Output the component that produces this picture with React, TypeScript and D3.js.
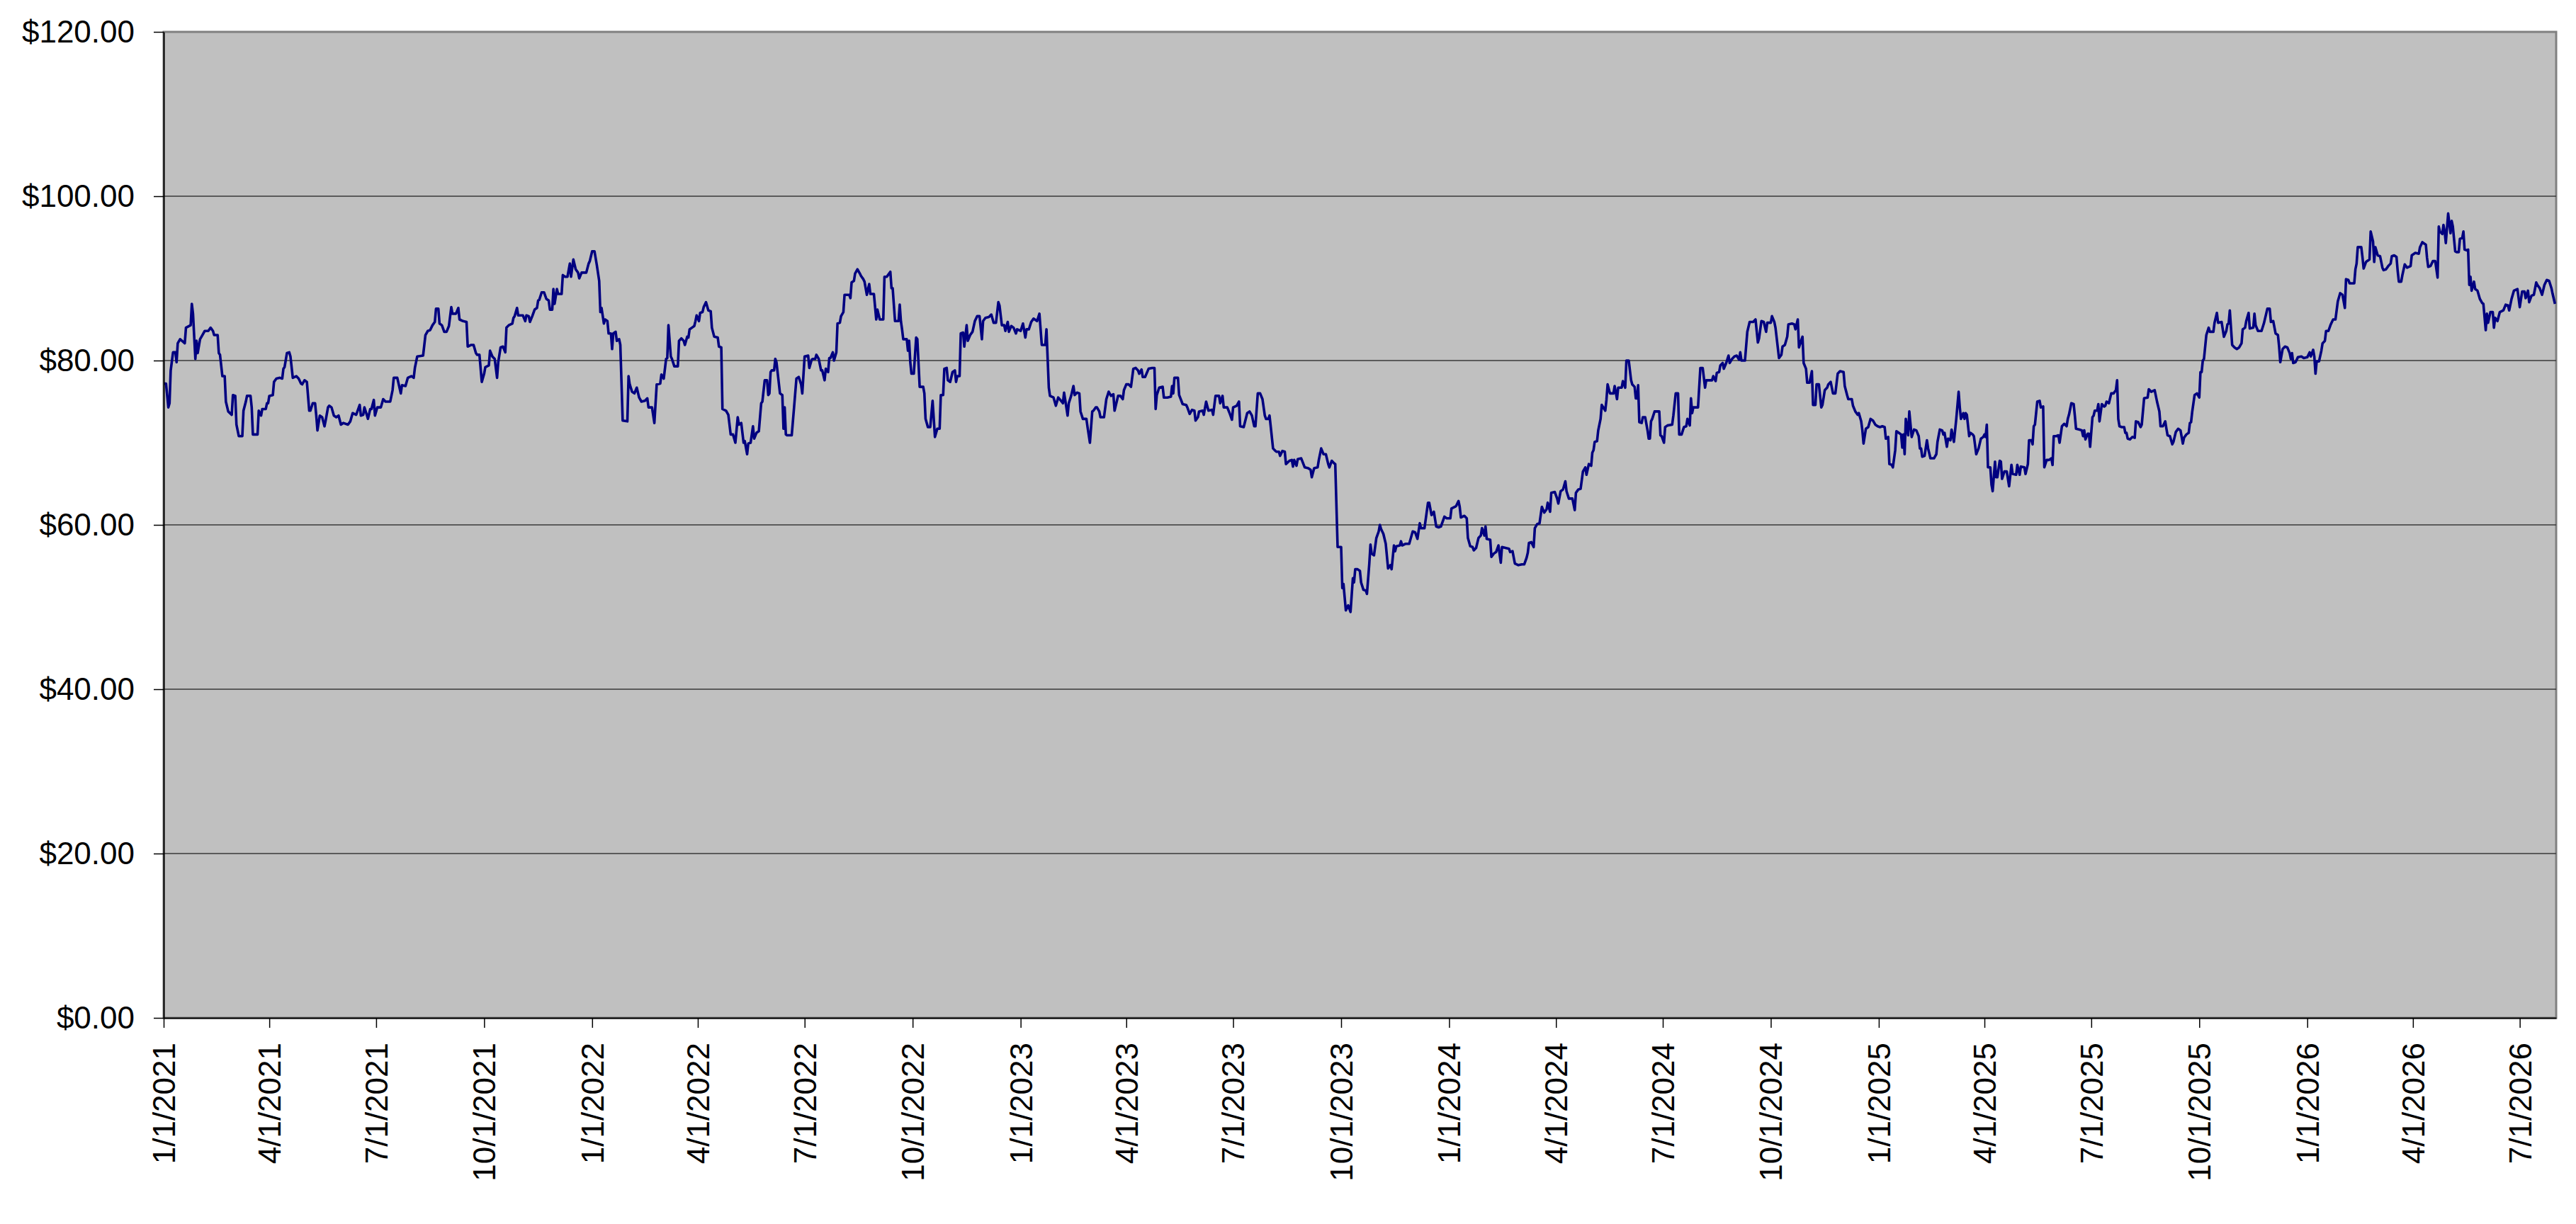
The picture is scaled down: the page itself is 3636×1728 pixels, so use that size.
import React, { useEffect, useRef } from "react";
import * as d3 from "d3";

// [days since 1/1/2021, price]
type Pt = [number, number];

const startDate = "1/1/2021";

const segJan2021: Pt[] = [
  [0, 77.2], [2, 77.2], [4, 74.3], [5, 74.8], [6, 78.8], [8, 81.0], [10, 81.0], [11, 79.8], [12, 82.1], [14, 82.6],
  [18, 82.1], [19, 84.0], [23, 84.3], [24, 86.9], [25, 85.7], [27, 80.2], [28, 82.4], [29, 80.9], [31, 82.6], [33, 83.1],
  [35, 83.6], [38, 83.6], [40, 84.0], [42, 83.6], [43, 83.1], [46, 83.1], [47, 80.9], [48, 80.7], [50, 78.1], [52, 78.1],
  [53, 75.0], [55, 73.8], [58, 73.4], [59, 75.8], [61, 75.7], [62, 72.2], [64, 70.8], [67, 70.8], [68, 73.9], [70, 75.0],
  [71, 75.7], [74, 75.7], [75, 74.3], [76, 71.0], [80, 71.0], [81, 73.9], [83, 73.3], [84, 74.1], [87, 74.1], [88, 74.8],
  [89, 74.8], [90, 75.7], [93, 75.8], [94, 77.4], [96, 77.8], [99, 77.9], [101, 77.8], [102, 79.0], [103, 79.2], [105, 80.9],
  [107, 81.0], [108, 80.5], [110, 77.9], [113, 78.1], [115, 77.8], [117, 77.2], [118, 77.1], [120, 77.6], [122, 77.4], [124, 73.9],
  [125, 73.9], [127, 74.8], [129, 74.8], [130, 73.3], [131, 71.5], [133, 73.3], [135, 73.1], [137, 72.0], [138, 72.7], [140, 74.3],
  [141, 74.5], [143, 74.3], [145, 73.3], [147, 73.1], [149, 73.3], [151, 72.2], [153, 72.4], [157, 72.2], [159, 72.6], [161, 73.6],
  [164, 73.4], [167, 74.6], [168, 73.3], [170, 73.4], [171, 74.3], [173, 73.4], [174, 72.9], [176, 74.1], [177, 74.1], [179, 75.2],
  [180, 73.3], [182, 74.3], [185, 74.3], [187, 75.3], [189, 75.0], [193, 75.0], [195, 76.4], [196, 77.9], [199, 77.9], [202, 76.0],
  [203, 77.0], [206, 76.9], [208, 77.9], [211, 78.1], [213, 77.9], [214, 79.1], [216, 80.5], [221, 80.6], [223, 83.1], [225, 83.6],
  [227, 83.7], [229, 84.3], [231, 84.7], [232, 86.3], [234, 86.3], [235, 84.5], [237, 84.3], [239, 83.5], [241, 83.5], [243, 84.2],
  [245, 86.5], [246, 85.7], [249, 85.7], [251, 86.4], [252, 85.0],
];

const segSep2021: Pt[] = [
  [255, 84.8], [258, 84.7], [259, 81.7], [262, 81.9], [264, 81.9], [266, 80.9], [267, 80.7], [269, 80.7], [271, 77.4], [273, 78.4],
  [274, 79.2], [277, 79.4], [278, 81.2], [280, 80.5], [282, 80.2], [284, 77.9], [285, 79.8], [287, 81.6], [289, 81.7], [291, 81.0],
  [292, 84.0], [294, 84.3], [297, 84.5], [298, 85.2], [299, 85.4], [301, 86.4], [302, 85.5], [304, 85.5], [306, 85.5], [308, 84.8],
  [309, 85.5], [311, 85.4], [312, 84.7], [314, 85.4], [316, 86.2], [318, 86.4], [319, 87.3], [320, 87.4], [322, 88.3], [324, 88.3],
  [326, 87.5], [328, 87.3], [329, 86.2], [331, 86.2], [332, 88.7], [333, 86.9], [335, 88.7], [336, 88.1], [339, 88.1], [340, 90.4],
  [342, 90.2], [344, 90.2], [346, 91.8], [347, 90.2], [349, 92.3], [351, 91.1], [353, 90.7], [354, 90.0], [356, 90.7], [360, 90.7],
  [362, 91.8], [363, 92.1], [365, 93.3], [367, 93.3], [369, 91.6], [371, 89.7], [372, 85.9], [373, 86.4], [375, 84.5], [376, 85.0],
  [378, 84.8], [379, 83.3], [381, 83.3], [382, 81.4], [383, 83.3], [385, 83.5], [386, 82.4], [388, 82.6], [389, 81.9], [391, 72.7],
  [395, 72.6], [396, 78.1], [397, 77.1], [399, 76.2], [401, 76.0], [403, 76.7], [405, 75.5], [407, 75.0], [410, 75.1], [412, 75.4],
  [413, 74.3], [416, 74.3], [418, 72.4], [420, 77.1], [423, 77.2], [424, 78.3], [426, 77.8], [428, 80.2], [429, 80.3], [430, 84.3],
  [432, 80.5], [433, 80.2], [435, 79.3], [438, 79.3], [439, 82.4], [441, 82.7], [443, 82.4], [444, 81.9], [446, 82.9], [447, 82.8],
  [448, 83.8], [450, 84.0], [452, 84.2], [453, 84.8], [454, 85.5], [456, 84.8], [457, 85.8], [459, 85.9], [460, 86.5], [462, 87.1],
  [464, 86.1], [466, 86.0], [467, 84.0], [469, 82.9], [472, 82.8], [473, 81.7], [475, 81.6], [476, 74.1], [479, 73.9], [481, 73.4],
  [483, 71.0], [485, 71.0], [487, 70.0], [489, 73.1], [490, 72.2], [492, 72.4], [494, 70.0], [495, 70.2], [497, 68.6], [498, 69.9],
  [500, 70.0], [502, 72.0], [503, 70.5], [505, 71.2], [507, 71.4], [509, 74.8],
];

const segMay2022: Pt[] = [
  [510, 75.0], [512, 77.6], [514, 77.6], [515, 75.8], [516, 76.0], [517, 78.6], [518, 78.8], [520, 78.8], [521, 80.2], [522, 79.8],
  [525, 76.0], [527, 75.8], [528, 71.7], [529, 74.3], [530, 71.0], [531, 70.9], [535, 70.9], [537, 74.3], [539, 77.8], [541, 78.0],
  [543, 77.1], [544, 76.0], [546, 80.5], [549, 80.6], [550, 79.1], [552, 80.1], [553, 80.2], [555, 80.2], [556, 80.7], [558, 80.2],
  [560, 78.8], [561, 78.8], [563, 77.6], [564, 79.0], [566, 78.6], [567, 80.3], [568, 80.3], [570, 81.0], [571, 80.0], [573, 81.0],
  [574, 84.5], [576, 84.6], [577, 85.4], [579, 85.9], [580, 88.0], [584, 88.0], [585, 87.6], [586, 89.5], [588, 89.7], [589, 90.6],
  [591, 91.1], [593, 90.6], [594, 90.3], [596, 89.9], [597, 89.6], [599, 88.0], [600, 88.7], [601, 89.3], [602, 88.1], [605, 88.1],
  [607, 85.0], [608, 86.2], [610, 85.0], [613, 85.0], [614, 90.2], [616, 90.2], [617, 90.4], [619, 90.8], [620, 88.8], [621, 88.8],
  [623, 84.8], [626, 84.8], [627, 86.8], [628, 84.8], [629, 83.8], [630, 82.6], [633, 82.6], [634, 81.2], [635, 82.4], [636, 79.8],
  [637, 78.4], [639, 78.4], [641, 82.8], [642, 82.6], [644, 76.8], [647, 76.8], [648, 76.0], [649, 72.9], [651, 71.9], [653, 71.9],
  [655, 75.1], [657, 70.7], [659, 71.7], [661, 71.7], [662, 75.8], [664, 75.8], [665, 79.0], [667, 79.1], [668, 77.6], [670, 77.4],
  [672, 78.6], [674, 78.8], [675, 77.4], [676, 78.1], [678, 78.1], [679, 83.3], [681, 83.4], [682, 81.7], [684, 84.3], [685, 82.4],
  [687, 83.1], [689, 83.5], [691, 84.8], [693, 85.4], [695, 85.4], [697, 82.6], [698, 84.8], [700, 85.2], [703, 85.3], [705, 85.6],
  [707, 84.6], [709, 84.6], [711, 87.1], [712, 86.7], [714, 84.3], [716, 84.3], [717, 83.6], [719, 84.7], [720, 83.5], [722, 84.2],
  [724, 84.0], [726, 83.3], [727, 83.8], [730, 83.6], [732, 84.5], [734, 82.8], [735, 83.8], [737, 83.8], [739, 84.7], [741, 85.1],
  [744, 84.8], [746, 85.7], [748, 81.9], [751, 81.9], [752, 83.8], [754, 76.7], [755, 75.7], [758, 75.5], [760, 74.5], [762, 75.5],
];

const segFeb2023: Pt[] = [
  [765, 75.0], [766, 74.8], [767, 76.1], [768, 75.2], [770, 73.3], [771, 74.8], [773, 75.7], [775, 76.9], [776, 75.8], [778, 76.1],
  [780, 76.0], [781, 73.8], [783, 72.9], [786, 72.9], [787, 71.9], [789, 70.0], [791, 73.8], [792, 73.9], [794, 74.3], [795, 74.3],
  [797, 73.8], [798, 73.1], [801, 73.1], [803, 75.3], [805, 76.2], [807, 75.7], [809, 75.9], [810, 73.9], [813, 75.7], [815, 75.7],
  [817, 75.3], [818, 76.4], [820, 77.1], [822, 77.1], [824, 76.8], [826, 79.0], [828, 79.1], [830, 78.8], [831, 78.4], [833, 78.9],
  [834, 78.0], [836, 78.0], [839, 79.0], [842, 79.1], [844, 79.1], [845, 74.1], [846, 75.8], [848, 76.7], [851, 76.8], [852, 75.5],
  [855, 75.5], [858, 75.6], [859, 76.9], [860, 76.0], [861, 77.9], [864, 77.9], [865, 75.8], [868, 74.7], [871, 74.6], [872, 74.3],
  [874, 73.5], [876, 74.0], [878, 73.9], [879, 72.7], [881, 73.1], [882, 73.8], [885, 73.9], [886, 73.4], [888, 75.0], [890, 73.9],
  [893, 74.0], [894, 73.4], [896, 75.7], [899, 75.7], [900, 74.8], [902, 75.7], [903, 74.3], [906, 74.3], [908, 73.6], [910, 72.8],
  [911, 74.3], [914, 74.5], [916, 75.0], [917, 72.0], [920, 71.9], [923, 73.6], [925, 73.8], [927, 73.3], [929, 72.0], [930, 72.0],
  [932, 76.0], [934, 76.0], [936, 75.3], [938, 73.3], [939, 72.9], [941, 72.9], [942, 73.3], [943, 72.0], [945, 69.3], [947, 69.0],
  [948, 68.9], [950, 68.9], [951, 68.4], [953, 69.0], [955, 68.9], [956, 67.4], [959, 67.8], [961, 67.9], [962, 67.1], [963, 67.9],
  [965, 67.2], [966, 68.0], [969, 68.1], [972, 67.0], [975, 66.9], [977, 66.7], [978, 65.8], [980, 66.9], [983, 67.0], [984, 67.9],
  [986, 69.3], [988, 68.6], [990, 68.6], [992, 67.4], [993, 67.0], [995, 67.8], [997, 67.5], [998, 67.4], [1000, 57.3], [1002, 57.3],
  [1003, 57.3], [1004, 52.3], [1005, 52.8], [1007, 49.6], [1009, 50.2], [1011, 49.4], [1013, 53.5], [1014, 53.0], [1015, 54.6],
];

const segOct2023: Pt[] = [
  [1017, 54.6], [1019, 54.4], [1020, 53.0], [1022, 52.1], [1024, 52.0], [1025, 51.6], [1027, 55.3], [1028, 57.6], [1029, 56.5], [1031, 56.3],
  [1033, 58.4], [1035, 59.2], [1036, 60.0], [1037, 59.5], [1039, 58.9], [1041, 57.7], [1043, 54.7], [1045, 55.1], [1046, 54.6], [1048, 57.5],
  [1049, 56.8], [1050, 57.4], [1053, 57.5], [1054, 58.0], [1055, 57.5], [1058, 57.7], [1061, 57.7], [1062, 58.2], [1064, 59.2], [1066, 59.1],
  [1068, 58.3], [1070, 60.2], [1071, 59.6], [1074, 59.6], [1077, 62.7], [1078, 62.7], [1080, 61.2], [1082, 61.6], [1084, 59.8], [1086, 59.7],
  [1088, 59.8], [1091, 61.0], [1093, 60.8], [1096, 60.8], [1097, 62.0], [1100, 62.2], [1101, 62.3], [1103, 62.9], [1104, 62.2], [1105, 60.9],
  [1108, 61.1], [1110, 60.8], [1111, 58.4], [1113, 57.4], [1115, 57.3], [1116, 56.9], [1118, 57.2], [1120, 58.4], [1122, 58.7], [1123, 59.6],
  [1125, 58.7], [1126, 59.8], [1127, 58.3], [1130, 58.2], [1131, 56.1], [1133, 56.5], [1135, 56.7], [1137, 57.5], [1139, 55.4], [1140, 57.3],
  [1143, 57.2], [1146, 57.1], [1147, 56.7], [1149, 56.8], [1151, 55.3], [1154, 55.1], [1157, 55.2], [1159, 55.2], [1161, 56.0], [1162, 56.6],
  [1163, 57.8], [1165, 57.9], [1167, 57.3], [1168, 59.6], [1170, 60.1], [1172, 60.2], [1174, 62.2], [1176, 61.5], [1178, 61.9], [1179, 62.7],
  [1181, 61.6], [1182, 63.9], [1185, 64.0], [1187, 63.2], [1188, 62.6], [1190, 64.1], [1192, 64.3], [1194, 65.3], [1195, 64.1], [1197, 63.2],
  [1200, 63.2], [1202, 61.8], [1203, 63.9], [1205, 64.3], [1207, 64.4], [1209, 66.5], [1211, 67.0], [1212, 66.1], [1214, 67.4], [1216, 67.2],
  [1217, 68.8], [1218, 69.1], [1219, 70.1], [1221, 70.2], [1222, 71.5], [1224, 72.9], [1225, 74.6], [1228, 73.9], [1229, 75.2], [1230, 77.1],
  [1232, 76.0], [1235, 76.0], [1236, 76.9], [1238, 75.3], [1239, 76.7], [1242, 76.7], [1243, 77.5], [1245, 76.7], [1246, 80.0], [1248, 80.0],
  [1250, 77.6], [1251, 77.1], [1253, 76.8], [1254, 75.4], [1255, 75.4], [1256, 77.0], [1257, 72.5], [1259, 72.4], [1260, 73.1], [1262, 73.1],
  [1264, 71.5], [1265, 70.5], [1266, 70.5], [1267, 72.6], [1268, 72.9], [1270, 73.8],
];

const segJun2024: Pt[] = [
  [1272, 73.8], [1274, 73.8], [1275, 70.9], [1276, 70.8], [1278, 70.0], [1279, 71.9], [1281, 72.1], [1285, 72.2], [1286, 73.3], [1288, 76.0],
  [1290, 76.0], [1291, 71.0], [1293, 71.0], [1295, 71.9], [1297, 72.0], [1298, 72.9], [1300, 72.1], [1301, 75.4], [1302, 73.6], [1303, 74.3],
  [1307, 74.3], [1309, 79.1], [1311, 79.1], [1313, 76.7], [1314, 77.6], [1319, 77.6], [1320, 78.1], [1322, 77.5], [1323, 78.5], [1325, 78.6],
  [1326, 79.4], [1328, 79.7], [1329, 79.0], [1331, 79.7], [1333, 80.6], [1334, 79.7], [1336, 80.2], [1338, 80.5], [1340, 80.6], [1342, 80.1],
  [1343, 81.0], [1344, 80.0], [1347, 80.0], [1349, 83.5], [1351, 84.7], [1354, 84.7], [1356, 85.0], [1358, 82.2], [1359, 82.7], [1361, 84.8],
  [1363, 84.7], [1365, 83.5], [1366, 84.6], [1369, 84.6], [1370, 85.4], [1372, 84.7], [1373, 84.0], [1376, 80.3], [1378, 80.7], [1379, 81.7],
  [1381, 81.9], [1383, 82.9], [1384, 84.4], [1387, 84.5], [1389, 84.4], [1390, 83.8], [1392, 85.0], [1393, 81.6], [1396, 82.9], [1397, 79.7],
  [1399, 79.0], [1400, 77.3], [1402, 77.3], [1404, 78.7], [1405, 74.6], [1407, 74.6], [1408, 77.1], [1410, 77.1], [1412, 74.3], [1413, 74.6],
  [1415, 76.4], [1417, 76.7], [1418, 77.1], [1420, 77.4], [1422, 76.0], [1424, 76.0], [1426, 78.4], [1428, 78.7], [1431, 78.6], [1432, 76.9],
  [1434, 75.8], [1435, 75.3], [1438, 75.3], [1439, 74.5], [1441, 73.8], [1443, 73.4], [1444, 73.6], [1446, 72.6], [1447, 71.5], [1448, 69.9],
  [1450, 71.7], [1452, 71.9], [1454, 72.9], [1456, 72.7], [1458, 72.2], [1460, 72.0], [1462, 71.9], [1464, 72.0], [1466, 71.9], [1467, 70.5],
  [1469, 70.7], [1470, 67.4], [1472, 67.3], [1473, 67.0], [1475, 69.1], [1476, 71.4], [1478, 71.2], [1480, 71.0], [1481, 69.4], [1482, 71.0],
  [1483, 68.6], [1484, 72.9], [1486, 70.9], [1487, 73.8], [1489, 70.7], [1491, 71.6], [1493, 71.5], [1495, 70.8], [1496, 69.3], [1497, 69.3],
  [1498, 68.3], [1500, 68.4], [1502, 70.3], [1503, 69.3], [1505, 68.1], [1508, 68.1], [1510, 68.6], [1511, 70.1], [1513, 71.6], [1515, 71.5],
  [1516, 71.0], [1517, 71.2], [1519, 69.5], [1520, 70.5], [1522, 70.3], [1523, 71.6], [1525, 70.1],
];

const segMar2025: Pt[] = [
  [1527, 72.9], [1529, 76.2], [1530, 74.3], [1531, 72.9], [1533, 73.6], [1534, 72.9], [1535, 73.6], [1536, 73.4], [1538, 70.8], [1539, 71.2],
  [1541, 71.0], [1542, 70.8], [1544, 68.6], [1546, 69.3], [1548, 70.5], [1550, 70.7], [1551, 71.0], [1552, 70.7], [1553, 72.2], [1554, 67.0],
  [1556, 67.0], [1557, 64.9], [1558, 64.1], [1560, 67.7], [1561, 65.8], [1562, 65.8], [1564, 67.8], [1565, 67.7], [1566, 65.6], [1568, 66.5],
  [1570, 66.5], [1572, 64.7], [1574, 67.3], [1575, 66.2], [1578, 66.1], [1579, 67.3], [1581, 66.1], [1582, 67.1], [1585, 67.0], [1586, 66.2],
  [1588, 67.4], [1589, 70.3], [1591, 70.3], [1592, 69.8], [1593, 72.0], [1594, 72.2], [1596, 75.0], [1598, 75.1], [1599, 74.3], [1601, 74.4],
  [1602, 67.0], [1604, 67.9], [1606, 67.9], [1608, 68.1], [1609, 67.3], [1610, 70.8], [1612, 70.8], [1614, 70.9], [1615, 70.0], [1617, 72.0],
  [1619, 72.3], [1621, 72.0], [1622, 72.9], [1623, 73.4], [1625, 74.8], [1627, 74.7], [1628, 73.3], [1629, 71.7], [1632, 71.6], [1634, 71.5],
  [1635, 70.8], [1636, 71.5], [1637, 70.4], [1639, 71.1], [1640, 71.1], [1641, 69.5], [1643, 73.1], [1644, 73.3], [1645, 73.9], [1647, 73.9],
  [1648, 74.7], [1649, 72.6], [1651, 74.7], [1653, 74.4], [1654, 74.5], [1655, 75.0], [1657, 74.8], [1659, 76.0], [1661, 76.0], [1663, 76.4],
  [1664, 77.6], [1665, 72.9], [1666, 72.0], [1668, 71.9], [1670, 71.9], [1671, 71.2], [1672, 71.2], [1673, 70.5], [1675, 70.4], [1677, 70.7],
  [1679, 70.6], [1680, 72.6], [1682, 72.5], [1684, 71.9], [1685, 72.2], [1687, 75.4], [1690, 75.5], [1691, 76.5], [1693, 76.2], [1696, 76.4],
  [1698, 75.0], [1700, 73.8], [1701, 72.0], [1703, 72.0], [1705, 72.6], [1706, 71.7], [1707, 70.9], [1709, 70.8], [1711, 69.8], [1712, 70.1],
  [1714, 71.3], [1716, 71.7], [1718, 71.5], [1720, 69.9], [1721, 70.6], [1723, 71.0], [1725, 71.2], [1726, 72.4], [1727, 72.5], [1728, 73.8],
  [1730, 75.8], [1732, 76.0], [1734, 75.5], [1735, 78.6], [1736, 78.6], [1737, 80.0], [1738, 80.2], [1740, 83.1], [1742, 84.0], [1743, 83.5],
  [1746, 83.5], [1747, 84.6], [1749, 85.8], [1750, 84.6], [1753, 84.7], [1755, 82.9], [1757, 83.6], [1758, 84.4], [1759, 84.5], [1760, 86.1],
  [1762, 81.9], [1764, 81.6], [1766, 81.4], [1768, 81.6], [1770, 82.1], [1771, 83.8], [1773, 84.0], [1774, 84.8], [1776, 85.8], [1777, 83.9],
  [1780, 84.0], [1781, 85.7],
];

const segNov2025: Pt[] = [
  [1782, 84.3], [1784, 83.6], [1787, 83.6], [1789, 84.5], [1791, 85.7], [1792, 86.3], [1794, 86.3], [1795, 84.7], [1797, 84.8], [1799, 83.3],
  [1801, 83.1], [1802, 81.7], [1803, 79.8], [1805, 81.4], [1807, 81.7], [1809, 81.6], [1811, 80.9], [1812, 80.2], [1813, 80.9], [1814, 79.7],
  [1816, 79.8], [1818, 80.4], [1821, 80.5], [1823, 80.3], [1826, 80.4], [1828, 81.0], [1829, 80.5], [1831, 81.3], [1832, 80.5], [1833, 78.4],
  [1834, 79.9], [1836, 79.9], [1838, 81.2], [1839, 82.1], [1841, 82.4], [1842, 83.6], [1844, 83.6], [1846, 84.4], [1848, 85.0], [1850, 85.0],
  [1852, 87.2], [1854, 88.2], [1856, 88.0], [1858, 86.4], [1859, 89.9], [1861, 89.8], [1862, 89.4], [1866, 89.4], [1867, 91.1], [1868, 91.8],
  [1869, 93.8], [1872, 93.8], [1873, 92.6], [1874, 91.2], [1876, 92.0], [1879, 92.3], [1880, 95.7], [1882, 94.5], [1883, 92.0], [1884, 93.8],
  [1886, 92.8], [1888, 92.7], [1890, 91.3], [1891, 91.0], [1893, 91.1], [1895, 91.5], [1897, 91.8], [1898, 92.7], [1900, 92.8], [1902, 92.6],
  [1903, 90.9], [1904, 89.6], [1906, 89.6], [1907, 90.4], [1909, 91.7], [1911, 91.3], [1914, 91.5], [1915, 92.8], [1918, 93.1], [1921, 93.0],
  [1922, 93.8], [1924, 94.4], [1927, 94.1], [1928, 92.5], [1929, 91.4], [1931, 91.5], [1933, 92.1], [1935, 92.1], [1937, 90.1], [1938, 96.3],
  [1939, 95.7], [1941, 95.4], [1942, 96.5], [1943, 95.7], [1944, 94.3], [1946, 97.9], [1947, 96.7], [1948, 95.5], [1949, 97.0], [1950, 96.3],
  [1952, 93.3], [1953, 93.2], [1955, 93.2], [1956, 94.8], [1958, 94.9], [1959, 95.7], [1960, 93.5], [1962, 93.4], [1963, 93.5], [1964, 89.2],
  [1965, 90.2], [1966, 88.5], [1968, 89.6], [1969, 88.7], [1971, 88.5], [1973, 87.5], [1975, 87.0], [1976, 86.9], [1978, 83.7], [1979, 85.7],
  [1980, 84.6], [1982, 85.9], [1984, 85.9], [1985, 84.0], [1986, 85.2], [1988, 84.8], [1990, 85.9], [1993, 86.1], [1995, 86.8], [1997, 86.7],
  [1998, 86.1], [2000, 87.5], [2002, 88.5], [2005, 88.7], [2007, 86.5], [2009, 88.4], [2011, 88.4], [2012, 87.6], [2014, 88.5], [2015, 87.1],
  [2017, 87.9], [2019, 88.0], [2021, 89.5], [2022, 89.2], [2024, 88.8], [2026, 88.0], [2028, 89.2], [2030, 89.8], [2032, 89.7], [2034, 88.8],
  [2035, 88.1], [2037, 86.9],
];

const lastAxisDay = 2038;

const yTicks = [0, 20, 40, 60, 80, 100, 120];

const xTickLabels = [
  "1/1/2021", "4/1/2021", "7/1/2021", "10/1/2021",
  "1/1/2022", "4/1/2022", "7/1/2022", "10/1/2022",
  "1/1/2023", "4/1/2023", "7/1/2023", "10/1/2023",
  "1/1/2024", "4/1/2024", "7/1/2024", "10/1/2024",
  "1/1/2025", "4/1/2025", "7/1/2025", "10/1/2025",
  "1/1/2026", "4/1/2026", "7/1/2026",
];

const W = 3636;
const H = 1728;
const FONT = "'Liberation Sans', Arial, sans-serif";

const parseMDY = (s: string) => {
  const [m, d, y] = s.split("/").map(Number);
  return Date.UTC(y, m - 1, d);
};
const dayOf = (s: string) => Math.round((parseMDY(s) - parseMDY(startDate)) / 86400000);

export default function App() {
  const ref = useRef<SVGSVGElement | null>(null);

  useEffect(() => {
    const svg = d3.select(ref.current);
    svg.selectAll("*").remove();

    const margin = { top: 45, right: W - 3608, bottom: H - 1437, left: 231 };
    const innerW = W - margin.left - margin.right;
    const innerH = H - margin.top - margin.bottom;

    const data: Pt[] = [
      ...segJan2021, ...segSep2021, ...segMay2022, ...segFeb2023,
      ...segOct2023, ...segJun2024, ...segMar2025, ...segNov2025,
    ];

    const x = d3.scaleLinear().domain([0, lastAxisDay]).range([0, innerW]);
    const y = d3.scaleLinear().domain([0, 120]).range([innerH, 0]);

    svg.append("rect").attr("width", W).attr("height", H).attr("fill", "#ffffff");

    const g = svg.append("g").attr("transform", `translate(${margin.left},${margin.top})`);

    // plot area
    g.append("rect")
      .attr("width", innerW)
      .attr("height", innerH)
      .attr("fill", "#c0c0c0")
      .attr("stroke", "#808080")
      .attr("stroke-width", 3);

    // gridlines
    g.append("g")
      .selectAll("line")
      .data(yTicks.filter((t) => t > 0 && t < 120))
      .join("line")
      .attr("x1", 0)
      .attr("x2", innerW)
      .attr("y1", (d) => y(d))
      .attr("y2", (d) => y(d))
      .attr("stroke", "#3a3a3a")
      .attr("stroke-width", 1.6);

    // series
    const line = d3
      .line<Pt>()
      .x(([d]) => x(d))
      .y(([, v]) => y(v));

    g.append("path")
      .datum(data)
      .attr("fill", "none")
      .attr("stroke", "#000080")
      .attr("stroke-width", 3.6)
      .attr("stroke-linejoin", "round")
      .attr("d", line);

    // y axis
    const yAxis = g
      .append("g")
      .call(
        d3
          .axisLeft(y)
          .tickValues(yTicks)
          .tickSizeInner(14)
          .tickSizeOuter(0)
          .tickPadding(27)
          .tickFormat((d) => `$${(+d).toFixed(2)}`)
      );
    yAxis.select(".domain").attr("stroke", "#000").attr("stroke-width", 2);
    yAxis.selectAll(".tick line").attr("stroke", "#000").attr("stroke-width", 1.5);
    yAxis.selectAll("text").attr("font-family", FONT).attr("font-size", 44).attr("fill", "#000");

    // x axis
    const tickDays = xTickLabels.map(dayOf);
    const xAxis = g
      .append("g")
      .attr("transform", `translate(0,${innerH})`)
      .call(
        d3
          .axisBottom(x)
          .tickValues(tickDays)
          .tickSizeInner(14)
          .tickSizeOuter(0)
          .tickFormat((_, i) => xTickLabels[i])
      );
    xAxis.select(".domain").attr("stroke", "#000").attr("stroke-width", 2);
    xAxis.selectAll(".tick line").attr("stroke", "#000").attr("stroke-width", 1.5);
    xAxis
      .selectAll("text")
      .attr("font-family", FONT)
      .attr("font-size", 44)
      .attr("fill", "#000")
      .attr("transform", "rotate(-90)")
      .attr("x", -35)
      .attr("y", 0)
      .attr("dy", "0.35em")
      .attr("text-anchor", "end");
  }, []);

  return (
    <svg
      ref={ref}
      width={W}
      height={H}
      style={{ position: "absolute", left: 0, top: 0, display: "block" }}
    />
  );
}
